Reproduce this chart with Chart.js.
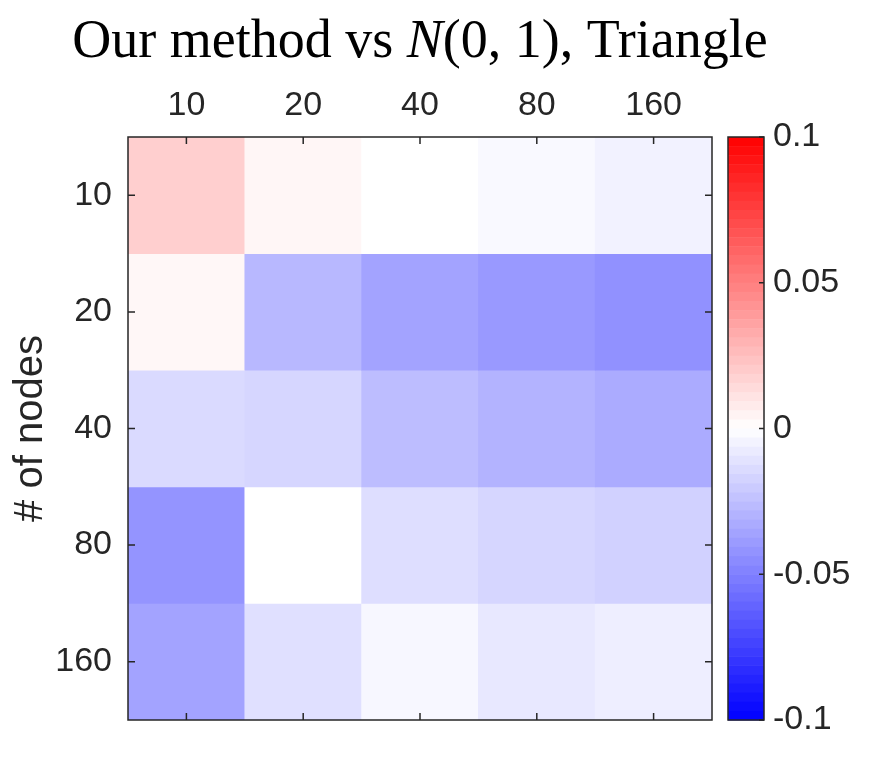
<!DOCTYPE html>
<html>
<head>
<meta charset="utf-8">
<title>Our method vs N(0,1), Triangle</title>
<script src="https://cdn.jsdelivr.net/npm/chart.js@4.4.1/dist/chart.umd.min.js"></script>
<style>
  html, body { margin: 0; padding: 0; background: #fff; }
</style>
</head>
<body>
<canvas id="heatmap" width="870" height="780"></canvas>
<script>
// categories
const colLabels = ['10', '20', '40', '80', '160'];
const rowLabels = ['10', '20', '40', '80', '160'];

// cell values, one array per row (# of nodes)
const row10  = [0.019, 0.0035, 0.0, -0.0025, -0.005];
const row20  = [0.003, -0.028, -0.036, -0.040, -0.043];
const row40  = [-0.0145, -0.016, -0.026, -0.030, -0.033];
const row80  = [-0.042, 0.0, -0.013, -0.016, -0.018];
const row160 = [-0.036, -0.012, -0.003, -0.009, -0.0065];
const rows = [row10, row20, row40, row80, row160];

// colorbar
const cbTicks = [-0.1, -0.05, 0, 0.05, 0.1];
const cMin = -0.1;
const cMax = 0.1;

const textColor = '#262626';
const tickFont = { family: "'Liberation Sans', Arial, sans-serif", size: 34 };

// blue - white - red
function colorFor(v) {
    let t = v / cMax;
    t = Math.max(-1, Math.min(1, t));
    const k = Math.round(255 * (1 - Math.abs(t)));
    return t >= 0 ? `rgb(255,${k},${k})` : `rgb(${k},${k},255)`;
}

const datasets = rows.map((vals, r) => ({
    label: rowLabels[r],
    data: vals.map(() => [r, r + 1]),
    backgroundColor: vals.map(colorFor),
    borderWidth: 0,
    barPercentage: 1,
    categoryPercentage: 1,
    grouped: false
}));

// frame, inner ticks, colorbar and title
const extras = {
    id: 'extras',
    afterDatasetsDraw(chart) {
        const ctx = chart.ctx;
        const a = chart.chartArea;
        const xs = chart.scales.x;
        const ys = chart.scales.y;
        const cb = chart.scales.cb;
        const tl = 7;

        ctx.save();
        ctx.strokeStyle = textColor;
        ctx.lineWidth = 1.5;
        ctx.strokeRect(a.left, a.top, a.right - a.left, a.bottom - a.top);

        ctx.beginPath();
        colLabels.forEach((_, i) => {
            const px = xs.getPixelForValue(i);
            ctx.moveTo(px, a.top); ctx.lineTo(px, a.top + tl);
            ctx.moveTo(px, a.bottom); ctx.lineTo(px, a.bottom - tl);
        });
        rowLabels.forEach((_, i) => {
            const py = ys.getPixelForValue(i + 0.5);
            ctx.moveTo(a.left, py); ctx.lineTo(a.left + tl, py);
            ctx.moveTo(a.right, py); ctx.lineTo(a.right - tl, py);
        });
        ctx.stroke();

        // colorbar, stepped like the colormap
        const cbLeft = a.right + 16;
        const cbWidth = 36;
        const top = cb.getPixelForValue(cMax);
        const bottom = cb.getPixelForValue(cMin);
        const steps = 64;
        const h = (bottom - top) / steps;
        for (let s = 0; s < steps; s++) {
            const v = cMax - (s + 0.5) * (cMax - cMin) / steps;
            ctx.fillStyle = colorFor(v);
            ctx.fillRect(cbLeft, top + s * h, cbWidth, h + 0.5);
        }
        ctx.strokeRect(cbLeft, top, cbWidth, bottom - top);
        ctx.beginPath();
        cbTicks.forEach(v => {
            const py = cb.getPixelForValue(v);
            ctx.moveTo(cbLeft + cbWidth, py);
            ctx.lineTo(cbLeft + cbWidth - 5, py);
        });
        ctx.stroke();

        // title with italic N
        const parts = [
            { t: 'Our method vs ', f: '' },
            { t: 'N', f: 'italic ' },
            { t: '(0, 1), Triangle', f: '' }
        ];
        const size = 54;
        const fam = "'Liberation Serif', 'Times New Roman', serif";
        let total = 0;
        parts.forEach(p => {
            ctx.font = `${p.f}${size}px ${fam}`;
            p.w = ctx.measureText(p.t).width;
            total += p.w;
        });
        let x = (a.left + a.right) / 2 - total / 2;
        ctx.fillStyle = '#000';
        ctx.textBaseline = 'alphabetic';
        ctx.textAlign = 'left';
        parts.forEach(p => {
            ctx.font = `${p.f}${size}px ${fam}`;
            ctx.fillText(p.t, x, 57);
            x += p.w;
        });
        ctx.restore();
    }
};

// vertical axes should not push the plot in for their end labels
function noEndPadding(scale) {
    scale.paddingTop = 0;
    scale.paddingBottom = 0;
}

new Chart(document.getElementById('heatmap'), {
    type: 'bar',
    data: {
        labels: colLabels,
        datasets: datasets
    },
    options: {
        responsive: false,
        animation: false,
        layout: {
            padding: { top: 62, left: 0, right: 0, bottom: 60 }
        },
        plugins: {
            legend: { display: false },
            tooltip: { enabled: false },
            title: { display: false }
        },
        scales: {
            x: {
                type: 'category',
                position: 'top',
                grid: { display: false, drawTicks: false },
                border: { display: false },
                ticks: { color: textColor, font: tickFont, padding: 11, maxRotation: 0 },
                afterFit(scale) {
                    scale.height = 75;
                    scale.paddingLeft = 0;
                    scale.paddingRight = 0;
                }
            },
            y: {
                type: 'linear',
                position: 'left',
                min: 0,
                max: rowLabels.length,
                reverse: true,
                grid: { display: false, drawTicks: false },
                border: { display: false },
                afterBuildTicks(scale) {
                    scale.ticks = rowLabels.map((_, i) => ({ value: i + 0.5 }));
                },
                ticks: {
                    color: textColor,
                    font: tickFont,
                    padding: 16,
                    callback: (v, i) => rowLabels[i]
                },
                title: {
                    display: true,
                    text: '# of nodes',
                    color: textColor,
                    font: { family: "'Liberation Sans', Arial, sans-serif", size: 40 },
                    padding: { top: 7, bottom: 0 }
                },
                afterFit(scale) {
                    scale.width = 128;
                    noEndPadding(scale);
                }
            },
            cb: {
                type: 'linear',
                position: 'right',
                min: cMin,
                max: cMax,
                grid: { display: false, drawTicks: false },
                border: { display: false },
                afterBuildTicks(scale) {
                    scale.ticks = cbTicks.map(v => ({ value: v }));
                },
                ticks: {
                    color: textColor,
                    font: tickFont,
                    padding: 61,
                    callback: v => (v === 0 ? '0' : String(v))
                },
                afterFit(scale) {
                    scale.width = 158;
                    noEndPadding(scale);
                }
            }
        }
    },
    plugins: [extras]
});
</script>
</body>
</html>
